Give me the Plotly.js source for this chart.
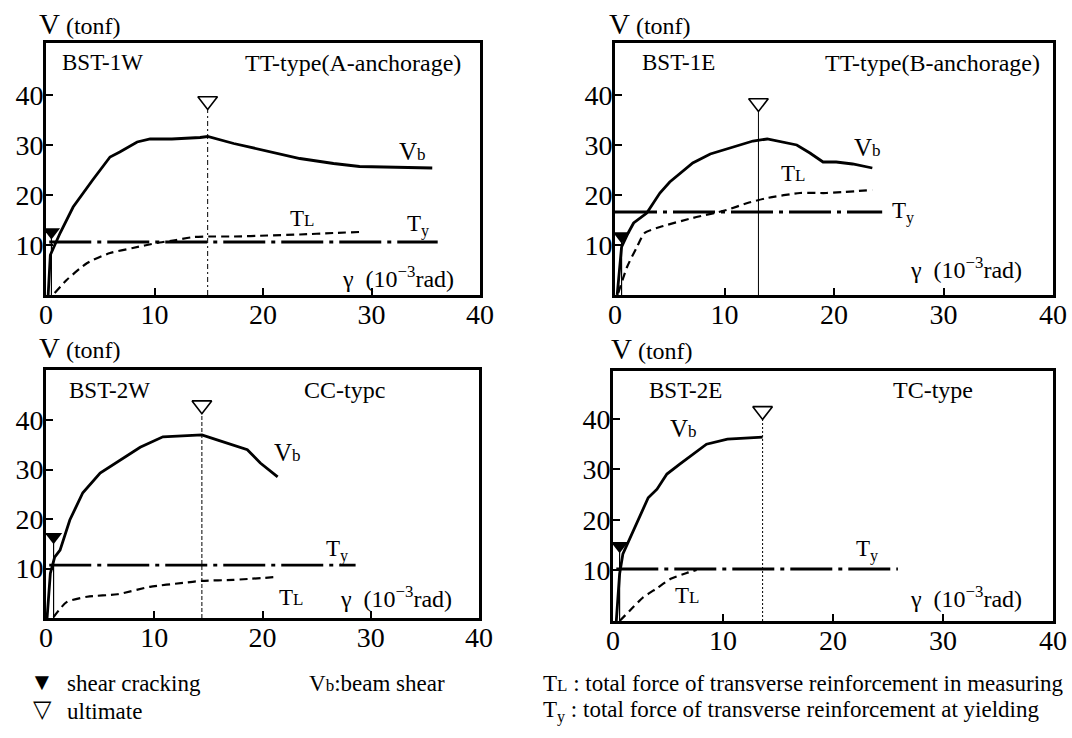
<!DOCTYPE html>
<html>
<head>
<meta charset="utf-8">
<script src="https://cdn.plot.ly/plotly-3.0.1.min.js"></script>
<style>
html,body{margin:0;padding:0;background:#fff;}
#chart{width:1072px;height:738px;}
</style>
</head>
<body>
<div id="chart"></div>
<script>
// ---------------- DATA ----------------
const specimens = ["BST-1W", "BST-1E", "BST-2W", "BST-2E"];
const typeLabels = ["TT-type(A-anchorage)", "TT-type(B-anchorage)", "CC-typc", "TC-type"];

// Shear deformation gamma (10^-3 rad) and beam shear Vb (tonf)
const vb1_x = [0.2, 0.4, 1.3, 2.5, 4.3, 5.9, 6.8, 8.4, 9.6, 11.6, 14.2, 14.9, 17.3, 20.4, 23.4, 26.5, 28.9, 35.6];
const vb1_y = [0.0, 8.0, 12.4, 17.6, 23.0, 27.6, 28.6, 30.6, 31.2, 31.2, 31.5, 31.7, 30.3, 28.7, 27.3, 26.3, 25.7, 25.4];
const vb2_x = [0.2, 0.6, 1.2, 1.7, 2.9, 4.1, 5.0, 7.1, 8.7, 10.8, 12.6, 13.9, 16.6, 17.8, 19.0, 20.2, 21.7, 23.5];
const vb2_y = [0.0, 9.6, 12.4, 14.4, 16.4, 20.4, 22.6, 26.4, 28.2, 29.6, 30.8, 31.2, 30.0, 28.4, 26.6, 26.6, 26.2, 25.4];
const vb3_x = [0.1, 0.4, 0.8, 1.3, 2.2, 3.4, 5.0, 6.6, 8.7, 10.8, 12.4, 14.4, 15.8, 17.3, 18.6, 19.8, 21.4];
const vb3_y = [0.0, 9.0, 12.3, 13.7, 19.8, 25.3, 29.3, 31.5, 34.5, 36.6, 36.8, 37.0, 36.0, 35.0, 34.0, 31.3, 28.5];
const vb4_x = [0.3, 0.6, 0.9, 1.7, 2.5, 3.2, 4.0, 4.9, 6.1, 7.3, 8.5, 10.4, 12.2, 13.6];
const vb4_y = [0.0, 9.3, 13.3, 17.2, 21.2, 24.4, 26.1, 29.1, 31.1, 33.0, 35.0, 36.0, 36.3, 36.4];

// Total force of transverse reinforcement in measuring, TL (tonf)
const tl1_x = [0.8, 1.9, 3.8, 5.9, 8.0, 10.2, 12.0, 13.6, 15.0, 17.3, 20.4, 23.4, 26.5, 28.9];
const tl1_y = [0.4, 3.0, 6.4, 8.4, 9.4, 10.4, 11.0, 11.6, 11.7, 11.7, 11.9, 12.1, 12.4, 12.6];
const tl2_x = [0.3, 1.1, 2.0, 2.7, 4.1, 7.1, 10.2, 12.1, 13.9, 16.9, 19.3, 23.5];
const tl2_y = [0.4, 5.6, 9.6, 12.4, 13.6, 15.4, 17.0, 18.4, 19.4, 20.4, 20.4, 21.0];
const tl3_x = [0.7, 1.9, 3.8, 6.6, 9.6, 12.7, 14.4, 17.3, 21.4];
const tl3_y = [0.2, 3.2, 4.3, 4.8, 6.3, 7.1, 7.5, 7.7, 8.3];
const tl4_x = [0.6, 1.5, 2.7, 4.0, 5.2, 6.7, 7.6];
const tl4_y = [0.0, 2.0, 4.6, 6.5, 8.3, 9.5, 10.1];

// Total force of transverse reinforcement at yielding, Ty (tonf): start/end gamma and level
const ty_x0 = [0.3, 0.0, 0.3, 0.3];
const ty_x1 = [36.1, 24.4, 28.6, 25.9];
const ty_v  = [10.6, 16.6, 10.7, 10.3];

// Shear cracking points (gamma, V)
const crack_x = [0.5, 0.6, 0.7, 0.6];
const crack_y = [12.6, 11.8, 16.4, 14.9];
// Ultimate points (gamma, V at marker)
const ult_x = [14.9, 13.1, 14.4, 13.6];
const ult_y = [38.8, 38.4, 43.0, 41.6];

// Axis ticks
const xTicks = [0, 10, 20, 30, 40];
const yTicks = [10, 20, 30, 40];

// ---------------- LAYOUT ----------------
const W = 1072, H = 738;
const FONT = "Liberation Serif, Times New Roman, serif";
// plot boxes in pixels [x0, x1, yTop, yBottom]
const boxes = [
  [46, 480, 43, 295],
  [615, 1053, 43, 295],
  [46, 479, 370, 618],
  [613, 1053, 371, 621]
];
const yMax = [50.4, 50.4, 50.1, 49.5];
// in-panel label positions (gamma, V)
const vbLab = [[33.8, 28.8], [23.1, 29.6], [22.3, 33.5], [6.4, 38.2]];
const tlLab = [[23.6, 15.4], [16.3, 24.4], [22.6, 4.2], [6.7, 5.0]];
const tyLab = [[34.3, 14.0], [26.3, 16.6], [26.9, 13.7], [23.1, 13.9]];
// pixel placements of texts
const namePos = [[60, 63], [640, 63], [67, 390], [647, 390]];
const typePos = [[463, 63, "right"], [1042, 63, "right"], [344, 390, "center"], [933, 390, "center"]];
const gamPos  = [[456, 277], [1024, 268], [454, 597], [1024, 597]];
const vPos    = [[37, 24], [607, 24], [37, 348], [609, 349]];
const ultStyles = [
  {dash: "5px,3px,2px,3px", width: 1},
  {dash: "solid", width: 1},
  {dash: "4px,2px", width: 1},
  {dash: "2px,2px", width: 1}
];

const vbX = [vb1_x, vb2_x, vb3_x, vb4_x];
const vbY = [vb1_y, vb2_y, vb3_y, vb4_y];
const tlX = [tl1_x, tl2_x, tl3_x, tl4_x];
const tlY = [tl1_y, tl2_y, tl3_y, tl4_y];

const traces = [];
const layout = {
  width: W, height: H,
  margin: {l: 0, r: 0, t: 0, b: 0},
  paper_bgcolor: "#fff",
  plot_bgcolor: "#fff",
  showlegend: false,
  font: {family: FONT, color: "#000", size: 20},
  annotations: [],
  shapes: []
};
const P = (px, py) => [px / W, 1 - py / H];

for (let i = 0; i < 4; i++) {
  const b = boxes[i];
  const xa = "x" + (i ? i + 1 : "");
  const ya = "y" + (i ? i + 1 : "");
  const xk = "xaxis" + (i ? i + 1 : "");
  const yk = "yaxis" + (i ? i + 1 : "");
  layout[xk] = {
    domain: [b[0] / W, b[1] / W],
    range: [0, 40],
    anchor: ya,
    tickvals: xTicks,
    ticktext: xTicks.map(String),
    ticks: "inside", ticklen: 7, tickwidth: 2, tickcolor: "#000",
    showline: true, mirror: true, linewidth: 3, linecolor: "#000",
    showgrid: false, zeroline: false,
    ticklabelstandoff: -8,
    tickfont: {family: FONT, size: 28, color: "#000"},
    fixedrange: true
  };
  layout[yk] = {
    domain: [1 - b[3] / H, 1 - b[2] / H],
    range: [0, yMax[i]],
    anchor: xa,
    tickvals: yTicks,
    ticktext: yTicks.map(String),
    ticks: "inside", ticklen: 7, tickwidth: 2, tickcolor: "#000",
    showline: true, mirror: true, linewidth: 3, linecolor: "#000",
    showgrid: false, zeroline: false,
    ticklabelstandoff: -6,
    tickfont: {family: FONT, size: 28, color: "#000"},
    fixedrange: true
  };

  traces.push({
    x: [ty_x0[i], ty_x1[i]], y: [ty_v[i], ty_v[i]],
    xaxis: xa, yaxis: ya, mode: "lines", hoverinfo: "skip",
    line: {color: "#000", width: 2.8, dash: "42px,6px,4px,6px"}
  });
  traces.push({
    x: tlX[i], y: tlY[i], xaxis: xa, yaxis: ya, mode: "lines", hoverinfo: "skip",
    line: {color: "#000", width: 2.2, dash: "8px,5px", shape: "spline", smoothing: 0.6}
  });
  traces.push({
    x: vbX[i], y: vbY[i], xaxis: xa, yaxis: ya, mode: "lines", hoverinfo: "skip",
    line: {color: "#000", width: 2.8}
  });
  traces.push({
    x: [ult_x[i], ult_x[i]], y: [0, ult_y[i] - 1.6], xaxis: xa, yaxis: ya,
    mode: "lines", hoverinfo: "skip",
    line: {color: "#000", width: ultStyles[i].width, dash: ultStyles[i].dash}
  });
  traces.push({
    x: [crack_x[i], crack_x[i]], y: [0, crack_y[i]], xaxis: xa, yaxis: ya,
    mode: "lines", hoverinfo: "skip",
    line: {color: "#000", width: 1.2}
  });
  traces.push({
    x: [ult_x[i]], y: [ult_y[i]], xaxis: xa, yaxis: ya, mode: "markers", hoverinfo: "skip",
    marker: {symbol: "triangle-down-open", size: 17, color: "#000", line: {width: 1.6, color: "#000"}}
  });
  traces.push({
    x: [crack_x[i]], y: [crack_y[i]], xaxis: xa, yaxis: ya, mode: "markers", hoverinfo: "skip",
    marker: {symbol: "triangle-down", size: 15, color: "#000"}
  });

  const ann = (x, y, text, size) => layout.annotations.push({
    xref: xa, yref: ya, x: x, y: y, text: text, showarrow: false,
    xanchor: "center", yanchor: "middle",
    font: {family: FONT, size: size, color: "#000"}
  });
  ann(vbLab[i][0], vbLab[i][1], "V<span style='font-size:17px'>b</span>", 25);
  ann(tlLab[i][0], tlLab[i][1], "T<span style='font-size:17px'>L</span>", 23);
  ann(tyLab[i][0], tyLab[i][1], "T<sub>y</sub>", 23);

  const pann = (px, py, text, size, xanchor) => {
    const p = P(px, py);
    layout.annotations.push({
      xref: "paper", yref: "paper", x: p[0], y: p[1], text: text, showarrow: false,
      xanchor: xanchor, yanchor: "middle",
      font: {family: FONT, size: size, color: "#000"}
    });
  };
  pann(namePos[i][0], namePos[i][1], specimens[i], 23, "left");
  pann(typePos[i][0], typePos[i][1], typeLabels[i], 24, typePos[i][2]);
  pann(gamPos[i][0], gamPos[i][1], "γ&nbsp;&nbsp;(10<sup>−3</sup>rad)", 24, "right");
  pann(vPos[i][0], vPos[i][1], "V<span style='font-size:24px'> (tonf)</span>", 29, "left");
}

// bottom explanatory legend
const legendItems = [
  ["▼", 42, 682, 24, "center"],
  ["shear cracking", 65, 683, 23, "left"],
  ["▽", 42, 709, 24, "center"],
  ["ultimate", 65, 711, 23, "left"],
  ["V<span style='font-size:17px'>b</span>:beam shear", 307, 683, 23, "left"],
  ["T<span style='font-size:17px'>L</span> : total force of transverse reinforcement in measuring", 541, 683, 23, "left"],
  ["T<sub>y</sub> : total force of transverse reinforcement at yielding", 541, 711, 23, "left"]
];
legendItems.forEach(it => layout.annotations.push({
  xref: "paper", yref: "paper", x: it[1] / W, y: 1 - it[2] / H,
  text: it[0], showarrow: false, xanchor: it[4], yanchor: "middle",
  font: {family: FONT, size: it[3], color: "#000"}
}));

Plotly.newPlot("chart", traces, layout, {staticPlot: true, displayModeBar: false});
</script>
</body>
</html>
